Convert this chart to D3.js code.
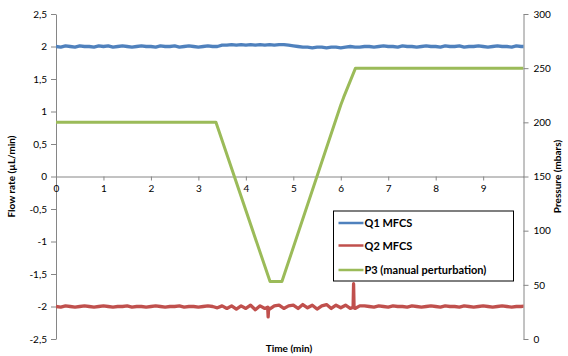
<!DOCTYPE html>
<html>
<head>
<meta charset="utf-8">
<script src="https://cdn.jsdelivr.net/npm/d3@7"></script>
<style>
  body { margin: 0; background: #fff; }
  text { font-family: Lato, "Open Sans", sans-serif; }
</style>
</head>
<body>
<svg id="chart" width="568" height="356"></svg>
<script>
// sampling step of the flow-rate traces (min)
const sampleStep = 0.1;

// Q1 MFCS flow rate (µL/min), one value every 0.1 min
const q1Values = [
  2.00, 1.99, 2.01, 2.00, 1.99, 2.01, 2.00, 2.00, 1.99, 2.01,
  2.00, 2.01, 1.99, 2.00, 2.01, 2.00, 1.99, 2.00, 2.01, 2.00,
  2.00, 1.99, 2.01, 2.00, 2.00, 2.01, 1.99, 2.00, 2.01, 2.00,
  1.99, 2.00, 2.01, 2.00, 2.00, 2.02, 2.02, 2.03, 2.02, 2.03,
  2.02, 2.03, 2.02, 2.03, 2.02, 2.03, 2.02, 2.03, 2.03, 2.02,
  2.01, 2.00, 1.99, 1.99, 1.98, 1.99, 1.99, 1.98, 1.99, 1.99,
  1.98, 1.99, 2.00, 1.99, 1.99, 2.00, 2.00, 1.99, 2.00, 2.01,
  2.00, 2.00, 1.99, 2.01, 2.00, 2.00, 1.99, 2.00, 2.01, 2.00,
  2.00, 1.99, 2.01, 2.00, 2.00, 2.01, 1.99, 2.00, 2.00, 2.01,
  2.00, 1.99, 2.00, 2.01, 2.00, 2.00, 1.99, 2.01, 2.00, 2.00
];

// Q2 MFCS flow rate (µL/min), one value every 0.1 min
const q2Values = [
  -2.00, -2.01, -1.99, -2.00, -2.01, -2.00, -1.99, -2.00, -2.01, -2.00,
  -1.99, -2.00, -2.01, -2.00, -2.00, -1.99, -2.01, -2.00, -2.00, -2.01,
  -2.00, -1.99, -2.00, -2.01, -2.00, -2.00, -1.99, -2.01, -2.00, -2.00,
  -2.01, -2.00, -1.99, -2.00, -2.02, -1.99, -2.03, -1.99, -2.04, -1.99,
  -2.03, -1.98, -2.05, -1.99, -2.03, -2.04, -1.99, -1.98, -2.03, -1.99,
  -1.98, -2.03, -1.97, -2.02, -1.98, -2.04, -1.99, -1.97, -2.03, -1.98,
  -2.02, -1.98, -2.03, -2.03, -1.99, -1.99, -2.00, -2.01, -1.99, -2.00,
  -2.01, -1.99, -2.00, -2.00, -2.01, -1.99, -2.00, -2.01, -2.00, -1.99,
  -2.00, -2.01, -1.99, -2.00, -2.00, -2.01, -1.99, -2.00, -2.01, -2.00,
  -1.99, -2.00, -2.01, -2.00, -1.99, -2.00, -2.01, -2.00, -2.00, -1.99
];
// narrow spikes in Q2 [time, value]
const q2Spikes = [
  [4.46, -2.01], [4.47, -2.16], [4.48, -2.02],
  [6.26, -2.01], [6.27, -1.65], [6.28, -2.02]
];

// P3 pressure (mbar) [time, value]
const p3Points = [
  [0, 200], [3.37, 200], [4.51, 53], [4.76, 53],
  [6.0, 216], [6.06, 223], [6.31, 250], [9.85, 250]
];

const flowTicks = [-2.5, -2, -1.5, -1, -0.5, 0, 0.5, 1, 1.5, 2, 2.5];
const pressureTicks = [0, 50, 100, 150, 200, 250, 300];
const timeTicks = [0, 1, 2, 3, 4, 5, 6, 7, 8, 9];

const series = [
  {name: "Q1 MFCS", color: "#4f81bd"},
  {name: "Q2 MFCS", color: "#c0504d"},
  {name: "P3 (manual perturbation)", color: "#9bbb59"}
];

const svg = d3.select("#chart");
const plotLeft = 56, plotRight = 523.5, plotTop = 14, plotBottom = 339;
const axisColor = "#868686";

const x = d3.scaleLinear().domain([0, 9.85]).range([plotLeft, plotRight]);
const yFlow = d3.scaleLinear().domain([-2.5, 2.5]).range([plotBottom, plotTop]);
const yP = d3.scaleLinear().domain([0, 300]).range([plotBottom, plotTop]);

const comma = d => String(d).replace(".", ",");

svg.append("clipPath").attr("id", "clip")
  .append("rect").attr("x", plotLeft).attr("y", 0).attr("width", plotRight - plotLeft).attr("height", 356);

// left axis
const gl = svg.append("g").attr("transform", `translate(${plotLeft},0)`)
  .call(d3.axisLeft(yFlow).tickValues(flowTicks).tickFormat(comma).tickSize(5).tickPadding(4).tickSizeOuter(0));
// right axis
const gr = svg.append("g").attr("transform", `translate(${plotRight},0)`)
  .call(d3.axisRight(yP).tickValues(pressureTicks).tickSize(5).tickPadding(5).tickSizeOuter(0));
// time axis at flow = 0
const gx = svg.append("g").attr("transform", `translate(0,${yFlow(0)})`)
  .call(d3.axisBottom(x).tickValues(timeTicks).tickSize(4).tickPadding(4).tickSizeOuter(0));

[gl, gr, gx].forEach(g => {
  g.selectAll("path, line").attr("stroke", axisColor);
  g.selectAll("text").attr("fill", "#000").style("font-size", "10px")
    .style("font-family", "Lato, 'Open Sans', sans-serif");
});

const plot = svg.append("g").attr("clip-path", "url(#clip)");

const q1Data = q1Values.map((v, i) => [i * sampleStep, v]);
const q2Data = q2Values.map((v, i) => [i * sampleStep, v])
  .concat(q2Spikes).sort((a, b) => a[0] - b[0]);

const lineFlow = d3.line().x(d => x(d[0])).y(d => yFlow(d[1]));
const lineP = d3.line().x(d => x(d[0])).y(d => yP(d[1]));

plot.append("path").datum(q1Data)
  .attr("d", lineFlow).attr("fill", "none")
  .attr("stroke", series[0].color).attr("stroke-width", 3.3).attr("stroke-linejoin", "round");
plot.append("path").datum(q2Data)
  .attr("d", lineFlow).attr("fill", "none")
  .attr("stroke", series[1].color).attr("stroke-width", 3.3).attr("stroke-linejoin", "round");
plot.append("path").datum(p3Points)
  .attr("d", lineP).attr("fill", "none")
  .attr("stroke", series[2].color).attr("stroke-width", 3).attr("stroke-linejoin", "round");

// axis titles
svg.append("text")
  .attr("transform", `translate(15,${yFlow(0)}) rotate(-90)`)
  .attr("text-anchor", "middle")
  .style("font-size", "10px").style("font-weight", "bold")
  .text("Flow rate (µL/min)");
svg.append("text")
  .attr("transform", `translate(561,${yFlow(0)}) rotate(-90)`)
  .attr("text-anchor", "middle")
  .style("font-size", "10px").style("font-weight", "bold")
  .text("Pressure (mbars)");
svg.append("text")
  .attr("x", 289).attr("y", 352)
  .attr("text-anchor", "middle")
  .style("font-size", "10px").style("font-weight", "bold")
  .text("Time (min)");

// legend
const legend = svg.append("g").attr("transform", "translate(333.5,211)");
legend.append("rect")
  .attr("width", 180).attr("height", 70)
  .attr("fill", "#fff").attr("stroke", "#000").attr("stroke-width", 1);
const rowY = [12, 34.5, 59];
series.forEach((s, i) => {
  legend.append("line")
    .attr("x1", 5).attr("x2", 30).attr("y1", rowY[i]).attr("y2", rowY[i])
    .attr("stroke", s.color).attr("stroke-width", 2.5);
  legend.append("text")
    .attr("x", 31).attr("y", rowY[i] + 4)
    .style("font-size", "11px").style("font-weight", "bold")
    .text(s.name);
});
</script>
</body>
</html>
